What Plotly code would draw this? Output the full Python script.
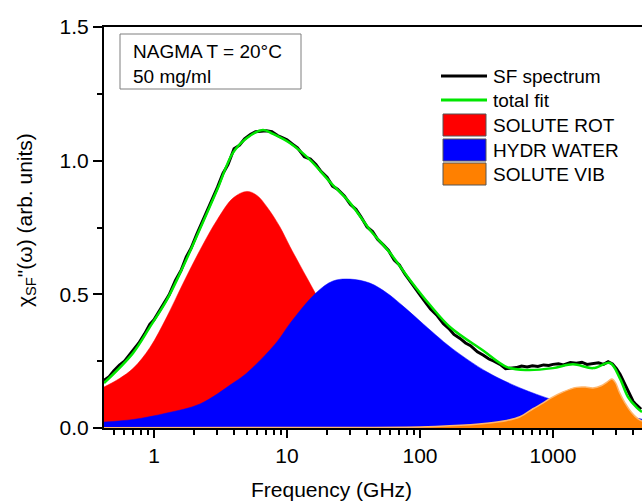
import plotly.graph_objects as go

# ---------------- data ----------------
freq_rot = [0.42, 0.55, 0.7, 0.93, 1.25, 1.65, 2.22, 2.98, 3.93, 5.0, 5.95, 7.07, 8.86,
            10.5, 12.5, 16.3, 20, 25, 30, 40, 60, 100, 200, 500, 1000, 2000, 4670]
solute_rot = [0.153, 0.185, 0.224, 0.30, 0.416, 0.54, 0.666, 0.778, 0.86, 0.885, 0.87, 0.827, 0.752,
              0.68, 0.61, 0.505, 0.42, 0.34, 0.29, 0.22, 0.155, 0.095, 0.048, 0.02, 0.01, 0.005, 0.002]

freq_hydr = [0.42, 0.7, 1.25, 2.22, 3.93, 5.0, 7.45, 8.86, 10.5, 16.5, 22.2, 29.8, 42, 56.4, 75,
             100, 130, 177, 318, 565, 1000, 1500, 2256, 4270, 4670]
hydr_water = [0.022, 0.032, 0.056, 0.09, 0.168, 0.206, 0.292, 0.337, 0.39, 0.505, 0.55, 0.557, 0.542,
              0.505, 0.455, 0.40, 0.35, 0.295, 0.21, 0.15, 0.105, 0.08, 0.06, 0.037, 0.033]

freq_vib = [0.42, 10, 100, 168, 318, 450, 565, 708, 850, 946, 1190, 1500, 1750, 2000, 2300,
            2550, 2770, 2950, 3150, 3470, 3900, 4340, 4670]
solute_vib = [0.001, 0.002, 0.004, 0.008, 0.018, 0.028, 0.042, 0.072, 0.095, 0.11, 0.135, 0.152,
              0.153, 0.15, 0.158, 0.172, 0.183, 0.17, 0.135, 0.095, 0.058, 0.035, 0.026]

freq_fit = [0.421, 0.695, 0.933, 1.25, 1.65, 2.22, 2.98, 3.93, 5.0, 6.6, 7.85, 10.5, 14.9, 21.1,
            29.8, 42.1, 59.5, 84.1, 119, 168, 298, 451, 638, 1000, 1413, 2000, 2685, 3190, 3665,
            4285, 4670]
total_fit = [0.168, 0.28, 0.378, 0.479, 0.602, 0.745, 0.89, 1.03, 1.085, 1.115, 1.10, 1.066, 1.003,
             0.92, 0.842, 0.741, 0.655, 0.554, 0.46, 0.378, 0.29, 0.228, 0.217, 0.224, 0.238, 0.224,
             0.243, 0.185, 0.116, 0.075, 0.06]

freq_sf = [0.42, 0.46, 0.5, 0.55, 0.6, 0.65, 0.7, 0.77, 0.85, 0.93, 1.0, 1.1, 1.2, 1.3, 1.45, 1.6,
           1.75, 1.9, 2.1, 2.3, 2.5, 2.75, 3.0, 3.3, 3.6, 4.0, 4.4, 4.8, 5.3, 5.8, 6.4, 7.0, 7.7,
           8.5, 9.3, 10, 11, 12, 13.5, 15, 16.5, 18, 20, 22, 24, 27, 30, 33, 36, 40, 44, 48, 53,
           58, 64, 70, 77, 85, 93, 100, 110, 120, 135, 150, 165, 180, 200, 220, 240, 270, 300,
           330, 360, 400, 440, 480, 530, 580, 640, 700, 770, 850, 930, 1000, 1100, 1200, 1350,
           1500, 1650, 1800, 2000, 2200, 2400, 2600, 2800, 3000, 3200, 3400, 3600, 3800, 4000,
           4200, 4400, 4600]
sf_spectrum = [0.178, 0.192, 0.214, 0.235, 0.250, 0.272, 0.290, 0.318, 0.352, 0.388, 0.405, 0.440,
               0.470, 0.498, 0.552, 0.590, 0.640, 0.672, 0.725, 0.770, 0.806, 0.860, 0.900, 0.952,
               0.985, 1.045, 1.058, 1.082, 1.098, 1.108, 1.110, 1.112, 1.108, 1.094, 1.085, 1.078,
               1.062, 1.048, 1.015, 1.006, 0.986, 0.960, 0.938, 0.905, 0.893, 0.868, 0.836, 0.818,
               0.790, 0.752, 0.735, 0.706, 0.685, 0.664, 0.628, 0.610, 0.576, 0.545, 0.520, 0.498,
               0.470, 0.445, 0.420, 0.390, 0.372, 0.350, 0.335, 0.318, 0.308, 0.285, 0.272, 0.258,
               0.250, 0.238, 0.222, 0.225, 0.226, 0.232, 0.228, 0.233, 0.230, 0.236, 0.234, 0.238,
               0.240, 0.236, 0.245, 0.242, 0.246, 0.238, 0.240, 0.244, 0.238, 0.248, 0.240, 0.222,
               0.200, 0.172, 0.148, 0.120, 0.100, 0.088, 0.078, 0.070]

x_tickvals = [1, 10, 100, 1000]
x_ticktext = ["1", "10", "100", "1000"]
x_minor = [m * d for d in [0.1, 1, 10, 100, 1000] for m in range(2, 10)]
y_tickvals = [0, 0.5, 1.0, 1.5]
y_ticktext = ["0.0", "0.5", "1.0", "1.5"]
y_minor = [0.25, 0.75, 1.25]

legend_names = ["SF spectrum", "total fit", "SOLUTE ROT", "HYDR WATER", "SOLUTE VIB"]
box_text = "NAGMA T = 20°C<br>50 mg/ml"

RED, BLUE, ORANGE, GREEN = "#FF0000", "#0000FF", "#FF8000", "#00E600"
FONT = "Liberation Sans, Arial, sans-serif"

fig = go.Figure()
fig.add_trace(go.Scatter(x=freq_rot, y=solute_rot, mode="lines", fill="tozeroy",
                         line=dict(color=RED, width=0.5, shape="spline"), fillcolor=RED,
                         showlegend=False))
fig.add_trace(go.Scatter(x=freq_hydr, y=hydr_water, mode="lines", fill="tozeroy",
                         line=dict(color=BLUE, width=0.5, shape="spline"), fillcolor=BLUE,
                         showlegend=False))
fig.add_trace(go.Scatter(x=freq_vib, y=solute_vib, mode="lines", fill="tozeroy",
                         line=dict(color="#FFB870", width=1.5, shape="spline"), fillcolor=ORANGE,
                         showlegend=False))
fig.add_trace(go.Scatter(x=freq_sf, y=sf_spectrum, mode="lines",
                         line=dict(color="black", width=3), showlegend=False))
fig.add_trace(go.Scatter(x=freq_fit, y=total_fit, mode="lines",
                         line=dict(color=GREEN, width=2.5, shape="spline"), showlegend=False))

fig.update_xaxes(type="log", range=[-0.3757, 3.6693], tickmode="array",
                 tickvals=x_tickvals, ticktext=x_ticktext,
                 ticks="outside", ticklen=8, tickwidth=2, tickcolor="black",
                 minor=dict(tickmode="array", tickvals=x_minor, ticks="outside", ticklen=5,
                            tickwidth=1.5, tickcolor="black", showgrid=False),
                 showline=True, linewidth=2, linecolor="black", mirror=True,
                 showgrid=False, zeroline=False,
                 tickfont=dict(family=FONT, size=21, color="black"))
fig.update_yaxes(range=[0, 1.5], tickmode="array", tickvals=y_tickvals, ticktext=y_ticktext,
                 ticks="outside", ticklen=9, tickwidth=2, tickcolor="black",
                 minor=dict(tickmode="array", tickvals=y_minor, ticks="outside", ticklen=5,
                            tickwidth=1.5, tickcolor="black", showgrid=False),
                 showline=True, linewidth=2, linecolor="black", mirror=False,
                 showgrid=False, zeroline=False,
                 tickfont=dict(family=FONT, size=21, color="black"))

L, T, B, W, H = 104, 27, 74, 642, 502
PW, PH = W - L, H - T - B

def px(x):
    return (x - L) / PW

def py(y):
    return (H - B - y) / PH

shapes = []
annotations = []
# text box
shapes.append(dict(type="rect", xref="paper", yref="paper", x0=px(120), x1=px(301),
                   y0=py(89), y1=py(34), line=dict(color="#7f7f7f", width=1), fillcolor="white"))
annotations.append(dict(xref="paper", yref="paper", x=px(131), y=py(39), xanchor="left",
                        yanchor="top", align="left", showarrow=False, text=box_text,
                        font=dict(family=FONT, size=19, color="black")))
# legend
leg_y = [76, 100, 125, 150, 174]
shapes.append(dict(type="line", xref="paper", yref="paper", x0=px(441), x1=px(487),
                   y0=py(leg_y[0]), y1=py(leg_y[0]), line=dict(color="black", width=3)))
shapes.append(dict(type="line", xref="paper", yref="paper", x0=px(441), x1=px(487),
                   y0=py(leg_y[1]), y1=py(leg_y[1]), line=dict(color=GREEN, width=3)))
for yc, col in zip(leg_y[2:], [RED, BLUE, ORANGE]):
    shapes.append(dict(type="rect", xref="paper", yref="paper", x0=px(443), x1=px(486),
                       y0=py(yc + 11), y1=py(yc - 11), fillcolor=col,
                       line=dict(color="#555555", width=1)))
for yc, name in zip(leg_y, legend_names):
    annotations.append(dict(xref="paper", yref="paper", x=px(491), y=py(yc), xanchor="left",
                            yanchor="middle", showarrow=False, text=name,
                            font=dict(family=FONT, size=19, color="black")))
# axis titles
annotations.append(dict(xref="paper", yref="paper", x=px(331), y=py(490), xanchor="center",
                        yanchor="middle", showarrow=False, text="Frequency (GHz)",
                        font=dict(family=FONT, size=21, color="black")))
annotations.append(dict(xref="paper", yref="paper", x=px(26), y=py(220), xanchor="center",
                        yanchor="middle", showarrow=False, textangle=-90,
                        text="χ<sub>SF</sub>\"(ω) (arb. units)",
                        font=dict(family=FONT, size=21, color="black")))

fig.update_layout(width=W, height=H, margin=dict(l=L, r=0, t=T, b=B, pad=0),
                  plot_bgcolor="white", paper_bgcolor="white",
                  shapes=shapes, annotations=annotations, showlegend=False)

fig.write_html("out.html")
